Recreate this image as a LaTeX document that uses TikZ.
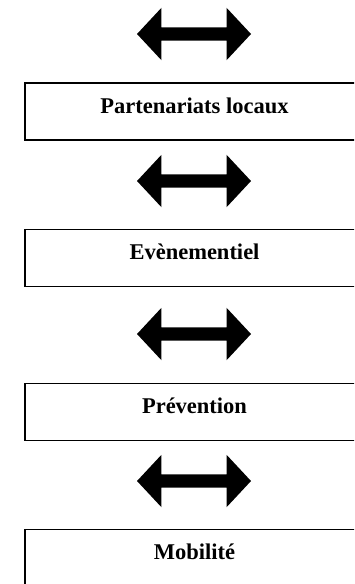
\documentclass[tikz,border=0pt]{standalone}
\usepackage{fontspec}
\setmainfont{Liberation Serif}
\usetikzlibrary{shapes.arrows}

\tikzset{
    dblarrow/.style={double arrow, fill=black, draw=none, inner xsep=0pt, inner ysep=6.5pt,
        minimum height=114pt, double arrow head extend=19.5pt, double arrow tip angle=94},
    themebox/.style={draw, line width=1.6pt, rectangle, inner sep=0pt, minimum width=339pt,
        text height=30pt, text depth=27pt, font=\fontsize{22.5}{27}\selectfont\bfseries}
}

\begin{document}
\begin{tikzpicture}[x=1pt, y=-1pt]
    \useasboundingbox (0,0) rectangle (354,584);
    \clip (0,0) rectangle (354,584);

    % arrows
    \node[dblarrow] (arr1) at (194, 34) {};
    \node[dblarrow] (arr2) at (194, 181) {};
    \node[dblarrow] (arr3) at (194, 334) {};
    \node[dblarrow] (arr4) at (194, 481) {};

    % boxes
    \node[themebox] (partenariats) at (194.5, 111.5) {Partenariats locaux};
    \node[themebox] (evenementiel) at (194.5, 258) {Evènementiel};
    \node[themebox] (prevention) at (194.5, 412) {Prévention};
    \node[themebox] (mobilite) at (194.5, 558) {Mobilité};
\end{tikzpicture}
\end{document}
